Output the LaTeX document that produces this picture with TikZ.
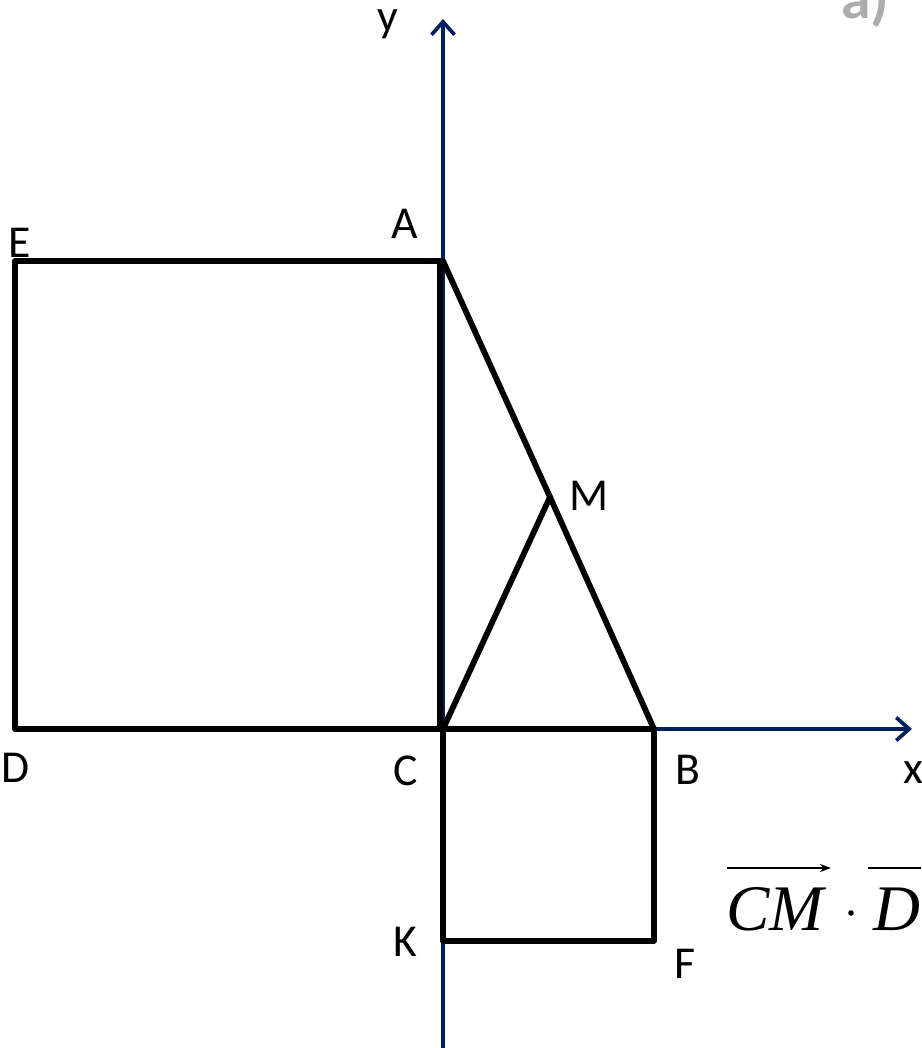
\documentclass[tikz,border=0pt]{standalone}
\usepackage{fontspec}
\setmainfont{Carlito}
\newfontfamily\tnr{Liberation Serif}
\usetikzlibrary{arrows.meta}
\definecolor{axisblue}{RGB}{0,32,96}
\begin{document}
\begin{tikzpicture}[x=0.02cm,y=-0.02cm,
  axis/.style={draw=axisblue,line width=2.1pt,-{Straight Barb[length=0.26cm,width=0.46cm,line width=2.1pt]}},
  figline/.style={draw=black,line width=3.3pt,line join=round,line cap=round},
  lbl/.style={font=\fontsize{26}{30}\selectfont,inner sep=0pt},
  formula/.style={font=\tnr\itshape\fontsize{37}{40}\selectfont,inner sep=0pt,anchor=base west}]
\useasboundingbox (0,0) rectangle (921,1048);
\clip (0,0) rectangle (921,1048);
% points
\coordinate (E) at (15,261);
\coordinate (A0) at (440,261);
\coordinate (C0) at (440,729);
\coordinate (A) at (443,261);
\coordinate (D) at (15,729);
\coordinate (C) at (443,729);
\coordinate (B) at (654,729);
\coordinate (M) at (550,497);
\coordinate (K) at (443,941);
\coordinate (F) at (654,941);
\coordinate (ybot) at (443,1048);
\coordinate (ytop) at (443,19);
\coordinate (xtip) at (912,729);
% axes
\draw[axis] (ybot) -- (ytop);
\draw[axis] (C) -- (xtip);
% figure
\draw[figline] (E) -- (A0) -- (C0) -- (D) -- cycle;
\draw[figline] (A) -- (M) -- (B);
\draw[figline] (C) -- (M);
\draw[figline] (C) -- (B) -- (F) -- (K) -- cycle;
% labels
\node[lbl] (ly) at (388,24) {y};
\node[lbl] (lA) at (405,224) {A};
\node[lbl] (lE) at (20,243) {E};
\node[lbl] (lM) at (589,496) {M};
\node[lbl] (lD) at (16,768) {D};
\node[lbl] (lC) at (406,771) {C};
\node[lbl] (lB) at (688,770) {B};
\node[lbl] (lx) at (913,773) {x};
\node[lbl] (lK) at (405,942) {K};
\node[lbl] (lF) at (685,964) {F};
% title
\node[font=\fontsize{34}{36}\bfseries\selectfont,text=gray!65,inner sep=0pt,anchor=base west] (ta) at (841,18) {a)};
% formula
\node[formula] (cm) at (726,930) {CM};
\coordinate (dot) at (851,913);
\fill (dot) circle (2.8);
\node[formula] (dd) at (873,930) {D};
\coordinate (arS) at (727,868);
\coordinate (arE) at (831,868);
\draw[line width=1.4pt,-{Stealth[length=0.22cm,width=0.16cm]}] (arS) -- (arE);
\coordinate (ovS) at (868,868);
\coordinate (ovE) at (921,868);
\draw[line width=1.4pt] (ovS) -- (ovE);
\end{tikzpicture}
\end{document}
